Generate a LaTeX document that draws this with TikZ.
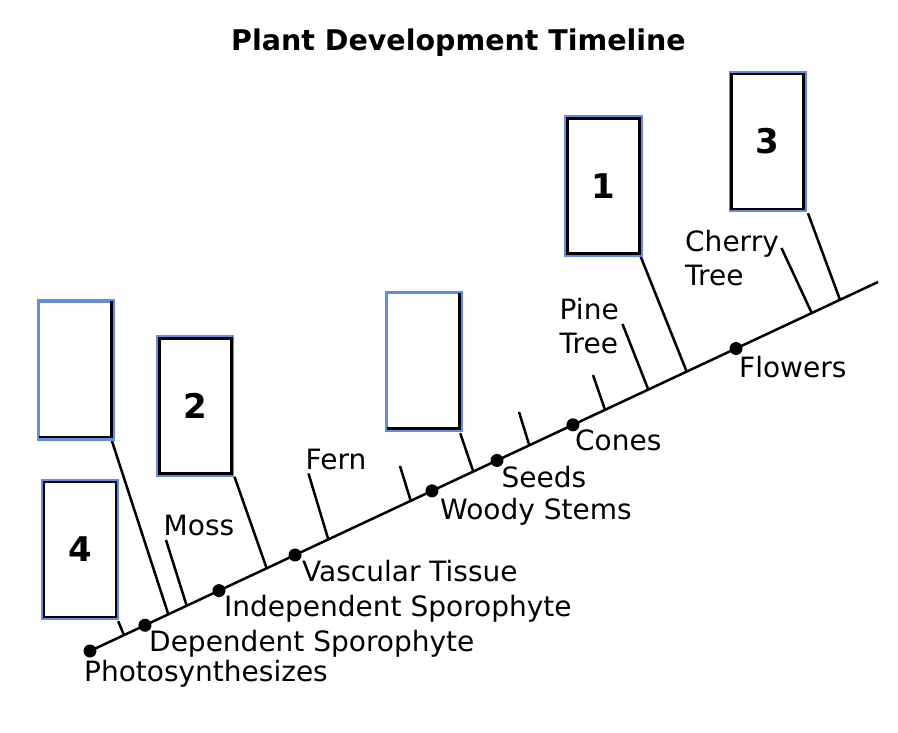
\documentclass[tikz,border=0pt]{standalone}
\usepackage{fontspec}
\setmainfont{DejaVu Sans}
\definecolor{boxblue}{RGB}{100,140,225}
\begin{document}
\begin{tikzpicture}[x=1pt,y=-1pt,
  lbl/.style={anchor=base west, inner sep=0pt, font=\fontsize{28}{34}\selectfont, align=left},
  num/.style={font=\fontsize{34}{40}\selectfont\bfseries},
  bluebox/.style={draw=boxblue, fill=white, line width=3.4pt, minimum width=75pt, minimum height=138pt, inner sep=0pt},
  conn/.style={line width=2.5pt},
  inner/.style={draw=black, line width=2.7pt},
  dot/.style={circle, fill=black, inner sep=0pt, minimum size=13pt}]
\useasboundingbox (0,0) rectangle (898,732);

% title
\node[anchor=base, inner sep=0pt, font=\fontsize{28.5}{34}\selectfont\bfseries] (title) at (458.5,50) {Plant Development Timeline};

% main line
\coordinate (A) at (90,651);
\coordinate (B) at (878,282);
\draw[conn] (A) -- (B);

% points on the line
\path (A) -- (B)
  coordinate[pos=0.0431] (p4)
  coordinate[pos=0.0994] (pL)
  coordinate[pos=0.1227] (pMoss)
  coordinate[pos=0.2242] (p2)
  coordinate[pos=0.3024] (pFern)
  coordinate[pos=0.4070] (pW)
  coordinate[pos=0.4864] (pC)
  coordinate[pos=0.5575] (pS)
  coordinate[pos=0.6536] (pPl)
  coordinate[pos=0.7085] (pPine)
  coordinate[pos=0.7572] (p1)
  coordinate[pos=0.9159] (pCherry)
  coordinate[pos=0.9518] (p3);

% free tick ends
\coordinate (tMoss) at (166,540);
\coordinate (tFern) at (308.5,473.5);
\coordinate (tW) at (400,466);
\coordinate (tS) at (519,412);
\coordinate (tPl) at (593,375);
\coordinate (tPine) at (622.5,324);
\coordinate (tCherry) at (781.5,248);

% boxes
\node[bluebox] (b4) at (80,549.5) {};
\node[bluebox] (bL) at (76,370) {};
\node[bluebox] (b2) at (195.25,406) {};
\node[bluebox] (bC) at (424,361.5) {};
\node[bluebox] (b1) at (603.5,186) {};
\node[bluebox] (b3) at (767.75,141.5) {};

% connectors from boxes
\draw[conn] ([shift={(-1,1)}]b4.south east) -- (p4);
\draw[conn] ([shift={(-4.5,-3.5)}]bL.south east) -- (pL);
\draw[conn] (b2.south east) -- (p2);
\draw[conn] ([shift={(-3,1)}]bC.south east) -- (pC);
\draw[conn] ([shift={(-2,0)}]b1.south east) -- (p1);
\draw[conn] ([shift={(1,1)}]b3.south east) -- (p3);

% ticks
\draw[conn] (tMoss) -- (pMoss);
\draw[conn] (tFern) -- (pFern);
\draw[conn] (tW) -- (pW);
\draw[conn] (tS) -- (pS);
\draw[conn] (tPl) -- (pPl);
\draw[conn] (tPine) -- (pPine);
\draw[conn] (tCherry) -- (pCherry);

% redraw boxes on top
\node[bluebox] at (b4) {};
\node[bluebox] at (bL) {};
\node[bluebox] at (b2) {};
\node[bluebox] at (bC) {};
\node[bluebox] at (b1) {};
\node[bluebox] at (b3) {};

% inner black borders
\foreach \b in {b4,b2,b1,b3}{
  \draw[inner] ([shift={(3.2,3.2)}]\b.north west) rectangle ([shift={(-3.2,-3.2)}]\b.south east);
}
\foreach \b in {bL,bC}{
  \draw[inner] ([shift={(-3.6,1.7)}]\b.north east) -- ([shift={(-3.6,-3.6)}]\b.south east) -- ([shift={(1.7,-3.6)}]\b.south west);
}

% numbers
\node[num] (n1) at (b1) {1};
\node[num] (n2) at (b2) {2};
\node[num] (n3) at (b3) {3};
\node[num] (n4) at (b4) {4};

% dots
\node[dot] (d1) at (A) {};
\path (A) -- (B)
  node[dot, pos=0.0698] (d2) {}
  node[dot, pos=0.1637] (d3) {}
  node[dot, pos=0.2602] (d4) {}
  node[dot, pos=0.4340] (d5) {}
  node[dot, pos=0.5165] (d6) {}
  node[dot, pos=0.6129] (d7) {}
  node[dot, pos=0.8198] (d8) {};

% event labels
\node[lbl] (l1) at (84,681) {Photosynthesizes};
\node[lbl] (l2) at (149,651.5) {Dependent Sporophyte};
\node[lbl] (l3) at (224,616.5) {Independent Sporophyte};
\node[lbl] (l4) at (302,581) {Vascular Tissue};
\node[lbl] (l5) at (440,519.5) {Woody Stems};
\node[lbl] (l6) at (501.5,487) {Seeds};
\node[lbl] (l7) at (575,450.5) {Cones};
\node[lbl] (l8) at (739,377) {Flowers};

% plant labels
\node[lbl] (lMoss) at (163.5,535) {Moss};
\node[lbl] (lFern) at (305.5,469.5) {Fern};
\node[lbl] (lPine) at (559.5,353.5) {Pine\\Tree};
\node[lbl] (lCherry) at (685,285.5) {Cherry\\Tree};
\end{tikzpicture}
\end{document}
